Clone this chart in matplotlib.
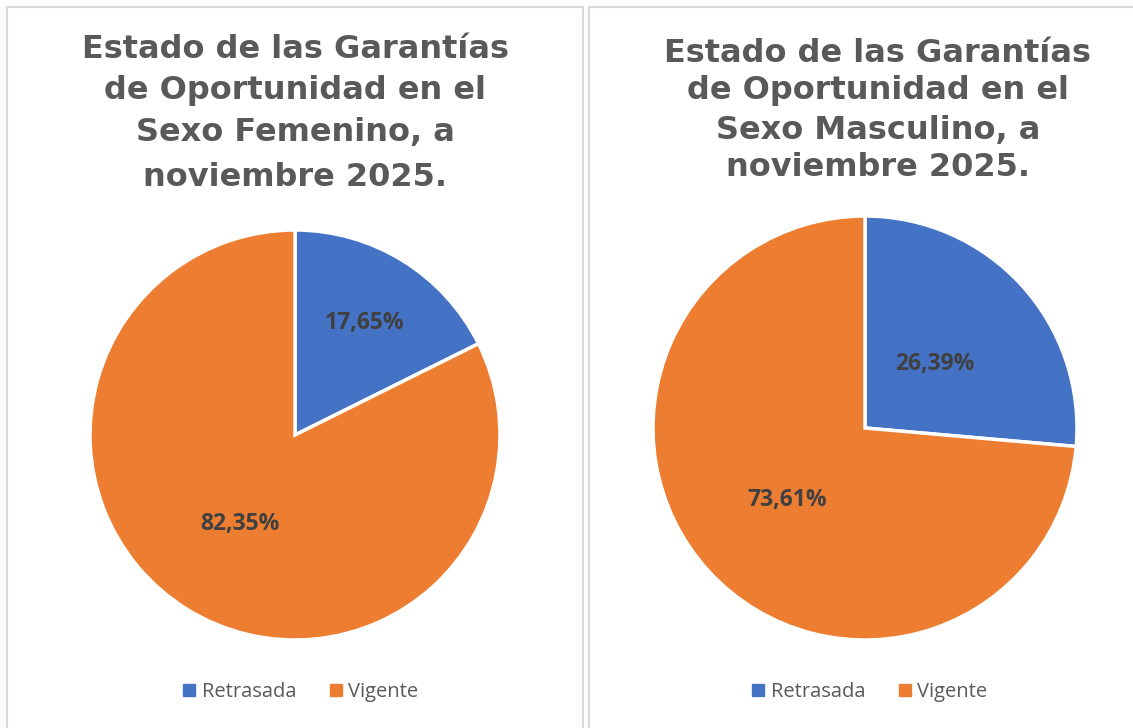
import numpy as np
import matplotlib.pyplot as plt
from matplotlib.patches import Rectangle
from matplotlib.lines import Line2D

# Data
categories = ['Retrasada', 'Vigente']
fem_values = [17.65, 82.35]
masc_values = [26.39, 73.61]
fem_title = ['Estado de las Garantías', 'de Oportunidad en el',
             'Sexo Femenino, a', 'noviembre 2025.']
masc_title = ['Estado de las Garantías', 'de Oportunidad en el',
              'Sexo Masculino, a', 'noviembre 2025.']
colors = ['#4472C4', '#ED7D31']

W, H = 1133, 728
fig = plt.figure(figsize=(W / 100, H / 100), dpi=100)
fig.patch.set_facecolor('white')

# panel borders
for x0, x1 in [(7, 583), (589, 1140)]:
    fig.patches.append(Rectangle((x0 / W, -0.05), (x1 - x0) / W, (H - 7) / H + 0.05,
                                 transform=fig.transFigure, fill=False,
                                 edgecolor='#D9D9D9', linewidth=1.5))


def draw_pie(values, cx, cy, r, label_dist, title, title_x, title_ys):
    ax = fig.add_axes([(cx - r) / W, (H - cy - r) / H, 2 * r / W, 2 * r / H])
    wedges, _ = ax.pie(values, colors=colors, startangle=90, counterclock=False,
                       wedgeprops=dict(edgecolor='white', linewidth=2.5))
    ax.set_xlim(-1, 1)
    ax.set_ylim(-1, 1)
    for w, v, d in zip(wedges, values, label_dist):
        ang = np.deg2rad((w.theta1 + w.theta2) / 2)
        ax.text(d * np.cos(ang), d * np.sin(ang), f'{v:.2f}%'.replace('.', ','),
                ha='center', va='center', fontsize=16.5, fontweight='bold',
                color='#404040', family='Open Sans')
    # title, one line at a time (Excel spaces them unevenly)
    for line, ty in zip(title, title_ys):
        fig.text(title_x / W, 1 - ty / H, line, ha='center', va='center',
                 fontsize=23, fontweight='bold', color='#595959',
                 family='DejaVu Sans')
    return ax


draw_pie(fem_values, 295, 435, 205, [0.64, 0.51], fem_title, 295, [50, 90, 133, 177])
draw_pie(masc_values, 865, 428, 212, [0.45, 0.50], masc_title, 878, [53, 91, 131, 168])

handles = [Line2D([], [], marker='s', linestyle='none', markersize=8,
                  markerfacecolor=c, markeredgecolor=c) for c in colors]
for lx in [300, 869]:
    fig.legend(handles, categories, loc='center', bbox_to_anchor=(lx / W, 1 - 692 / H),
               ncol=2, frameon=False, prop=dict(family='Open Sans', size=14.5),
               labelcolor='#595959', handletextpad=0.2, columnspacing=1.6,
               handlelength=0.8)

fig.savefig('out.png', dpi=100)
